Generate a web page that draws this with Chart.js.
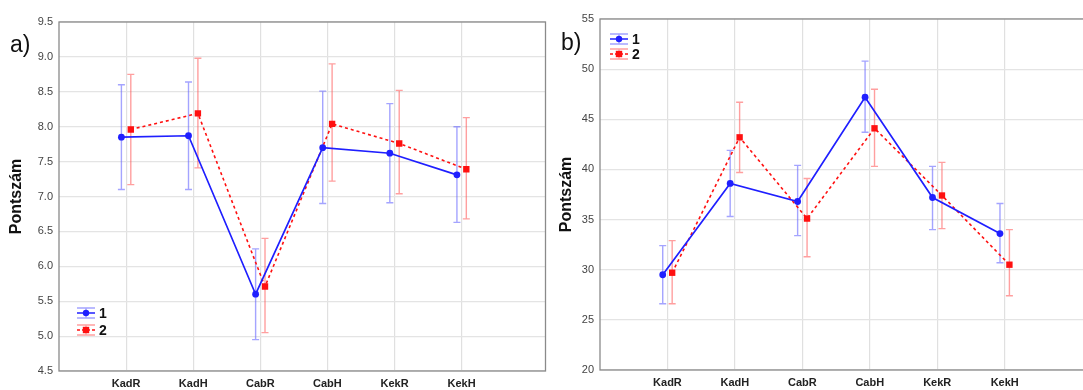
<!DOCTYPE html>
<html>
<head>
<meta charset="utf-8">
<script src="https://cdn.jsdelivr.net/npm/chart.js@4/dist/chart.umd.min.js"></script>
<style>
html,body{margin:0;padding:0;background:#fff;overflow:hidden;width:1083px;height:390px;}
#ca{position:absolute;left:0;top:0;}
#cb{position:absolute;left:540px;top:0;}
</style>
</head>
<body>
<canvas id="ca" width="550" height="390"></canvas>
<canvas id="cb" width="560" height="390"></canvas>
<script>
const categories = ['KadR','KadH','CabR','CabH','KekR','KekH'];
const seriesNames = ['1','2'];

// Panel a)
const aMean1 = [7.85, 7.87, 5.60, 7.70, 7.62, 7.31];
const aLow1  = [7.10, 7.10, 4.95, 6.90, 6.91, 6.63];
const aHigh1 = [8.60, 8.64, 6.25, 8.51, 8.33, 8.00];
const aMean2 = [7.96, 8.19, 5.71, 8.04, 7.76, 7.39];
const aLow2  = [7.17, 7.41, 5.05, 7.22, 7.04, 6.68];
const aHigh2 = [8.75, 8.98, 6.40, 8.90, 8.52, 8.13];
const aTicks = [4.5, 5.0, 5.5, 6.0, 6.5, 7.0, 7.5, 8.0, 8.5, 9.0, 9.5];

// Panel b)
const bMean1 = [29.5, 38.6, 36.8, 47.2, 37.2, 33.6];
const bLow1  = [26.6, 35.3, 33.4, 43.7, 34.0, 30.7];
const bHigh1 = [32.4, 41.9, 40.4, 50.8, 40.3, 36.6];
const bMean2 = [29.7, 43.2, 35.1, 44.1, 37.4, 30.5];
const bLow2  = [26.6, 39.7, 31.3, 40.3, 34.1, 27.4];
const bHigh2 = [32.9, 46.7, 39.1, 48.0, 40.7, 34.0];
const bTicks = [20, 25, 30, 35, 40, 45, 50, 55];

const OFF = 0.07;
const BLUE = '#1f1fff';
const RED = '#ff1010';
const BLUE_ERR = 'rgba(90,90,255,0.55)';
const RED_ERR = 'rgba(255,80,80,0.55)';

function pts(arr, off){ return arr.map((v,i)=>({x:i+1+off, y:v})); }

function makeChart(id, opts){
  const errPlugin = {
    id:'err'+id,
    beforeDatasetsDraw(chart){
      const ctx = chart.ctx, xs = chart.scales.x, ys = chart.scales.y;
      const sets = [[opts.low1, opts.high1, -OFF, BLUE_ERR],[opts.low2, opts.high2, OFF, RED_ERR]];
      ctx.save();
      ctx.lineWidth = 1.4;
      sets.forEach(([lo,hi,off,col])=>{
        ctx.strokeStyle = col;
        lo.forEach((l,i)=>{
          const x = xs.getPixelForValue(i+1+off);
          const y1 = ys.getPixelForValue(l), y2 = ys.getPixelForValue(hi[i]);
          ctx.beginPath();
          ctx.moveTo(x,y1); ctx.lineTo(x,y2);
          ctx.moveTo(x-3.5,y1); ctx.lineTo(x+3.5,y1);
          ctx.moveTo(x-3.5,y2); ctx.lineTo(x+3.5,y2);
          ctx.stroke();
        });
      });
      ctx.restore();
    },
    afterDraw(chart){
      const ctx = chart.ctx, a = chart.chartArea;
      ctx.save();
      ctx.strokeStyle = '#8a8a8a';
      ctx.lineWidth = 1.3;
      ctx.strokeRect(a.left, a.top, a.right-a.left, a.bottom-a.top);
      ctx.fillStyle = '#111';
      ctx.font = '23px "Liberation Sans", Arial, sans-serif';
      ctx.textBaseline = 'middle';
      ctx.textAlign = 'left';
      ctx.fillText(opts.panel, opts.panelX, opts.panelY);
      ctx.save();
      ctx.translate(opts.titleX, (a.top+a.bottom)/2);
      ctx.rotate(-Math.PI/2);
      ctx.textAlign = 'center';
      ctx.font = 'bold 16px "Liberation Sans", Arial, sans-serif';
      ctx.fillText('Pontszám', 0, 0);
      ctx.restore();
      const items = [[BLUE, BLUE_ERR, [], 'circle'],[RED, RED_ERR, [3,2], 'rect']];
      items.forEach(([c, ec, dash, shape], k)=>{
        const cx = opts.legX, cy = opts.legY + k*opts.legDy;
        ctx.strokeStyle = ec; ctx.lineWidth = 1.3; ctx.setLineDash([]);
        ctx.beginPath();
        ctx.moveTo(cx-9, cy-5); ctx.lineTo(cx+9, cy-5);
        ctx.moveTo(cx-9, cy+5); ctx.lineTo(cx+9, cy+5);
        ctx.moveTo(cx, cy-5); ctx.lineTo(cx, cy+5);
        ctx.stroke();
        ctx.strokeStyle = c; ctx.lineWidth = 1.5; ctx.setLineDash(dash);
        ctx.beginPath(); ctx.moveTo(cx-9, cy); ctx.lineTo(cx+9, cy); ctx.stroke();
        ctx.setLineDash([]);
        ctx.fillStyle = c;
        if(shape==='circle'){ ctx.beginPath(); ctx.arc(cx, cy, 3.2, 0, Math.PI*2); ctx.fill(); }
        else { ctx.fillRect(cx-3.2, cy-3.2, 6.4, 6.4); }
        ctx.fillStyle = '#111';
        ctx.font = 'bold 14px "Liberation Sans", Arial, sans-serif';
        ctx.textAlign = 'left'; ctx.textBaseline = 'middle';
        ctx.fillText(seriesNames[k], cx+13, cy+1);
      });
      ctx.restore();
    }
  };
  return new Chart(document.getElementById(id), {
    type:'line',
    data:{ datasets:[
      { label:seriesNames[0], data:pts(opts.mean1,-OFF), borderColor:BLUE, backgroundColor:BLUE, borderWidth:1.7,
        pointStyle:'circle', pointRadius:3.4, pointBorderWidth:0, fill:false, tension:0 },
      { label:seriesNames[1], data:pts(opts.mean2,OFF), borderColor:RED, backgroundColor:RED, borderWidth:1.6,
        borderDash:[3,3], pointStyle:'rect', pointRadius:4.5, pointBorderWidth:0, fill:false, tension:0 }
    ]},
    options:{
      responsive:false, animation:false, devicePixelRatio:1,
      layout:{ padding:{ top:opts.top, right:opts.right, bottom:0, left:0 } },
      plugins:{ legend:{display:false}, tooltip:{enabled:false} },
      scales:{
        x:{ type:'linear', min:0, max:7.25,
          afterBuildTicks(s){ s.ticks = categories.map((c,i)=>({value:i+1})); },
          afterFit(s){ s.height = opts.xh; },
          grid:{ color:'#e0e0e0', lineWidth:1.2, drawTicks:false },
          border:{ display:false },
          ticks:{ padding:6, color:'#222', font:{ family:'"Liberation Sans", Arial, sans-serif', size:11, weight:'bold' },
            maxRotation:0, autoSkip:false,
            callback(v){ return categories[Math.round(v)-1] || ''; } }
        },
        y:{ type:'linear', min:opts.ticks[0], max:opts.ticks[opts.ticks.length-1],
          afterBuildTicks(s){ s.ticks = opts.ticks.map(v=>({value:v})); },
          afterFit(s){ s.width = opts.yw; },
          grid:{ color:'#e4e4e4', lineWidth:1.2, drawTicks:false },
          border:{ display:false },
          ticks:{ padding:6, color:'#444', font:{ family:'"Liberation Sans", Arial, sans-serif', size:11 },
            callback(v){ return opts.dec ? Number(v).toFixed(1) : String(v); } }
        }
      }
    },
    plugins:[errPlugin]
  });
}

makeChart('ca', { mean1:aMean1, low1:aLow1, high1:aHigh1, mean2:aMean2, low2:aLow2, high2:aHigh2,
  ticks:aTicks, dec:true, top:22, right:2, yw:59, xh:19, panel:'a)', panelX:10, panelY:46, titleX:17,
  legX:86, legY:313, legDy:17 });
makeChart('cb', { mean1:bMean1, low1:bLow1, high1:bHigh1, mean2:bMean2, low2:bLow2, high2:bHigh2,
  ticks:bTicks, dec:false, top:19, right:11, yw:60, xh:20, panel:'b)', panelX:21, panelY:44, titleX:27,
  legX:79, legY:39, legDy:15 });
</script>
</body>
</html>
